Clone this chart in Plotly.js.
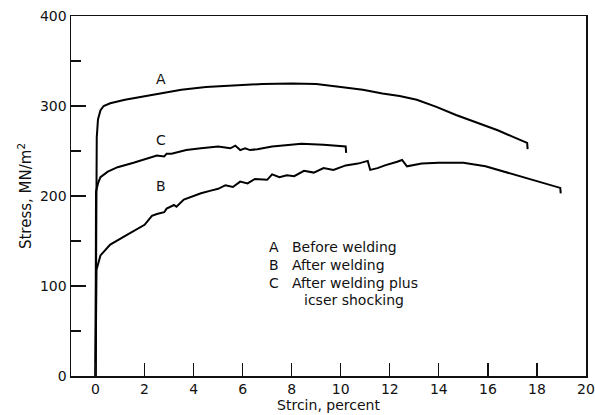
<!DOCTYPE html>
<html><head><meta charset="utf-8">
<script src="https://cdn.plot.ly/plotly-3.0.1.min.js"></script>
<style>body{margin:0;background:#fff}#c{width:595px;height:415px}</style>
</head><body><div id="c"></div>
<script>
// Curve A: Before welding
const strainA = [0, 0.02, 0.05, 0.1, 0.2, 0.33, 0.6, 1.2, 2.0, 2.65, 3.5, 4.5, 5.6, 6.8, 8.0, 9.0, 10.0, 10.9, 11.7, 12.4, 13.1, 13.9, 14.7, 15.5, 16.4, 17.0, 17.6, 17.62];
const stressA = [0, 240, 265, 285, 295, 300, 303, 307, 311, 314, 318, 321, 323, 324.5, 325, 324.5, 321, 318, 314, 311, 307, 299, 290, 282, 273, 266, 259, 252];
// Curve C: After welding plus laser shocking
const strainC = [0, 0.02, 0.1, 0.2, 0.5, 0.9, 1.55, 2.0, 2.5, 2.8, 2.9, 3.1, 3.7, 4.3, 5.0, 5.5, 5.7, 5.9, 6.1, 6.3, 6.6, 7.2, 7.9, 8.4, 9.3, 9.9, 10.2, 10.22];
const stressC = [0, 205, 214, 221, 227, 232, 237, 241, 245, 244, 247, 247, 251, 253, 255, 253, 256, 251, 253, 251, 252, 255, 257, 258, 257, 256, 255, 248];
// Curve B: After welding
const strainB = [0, 0.04, 0.2, 0.6, 1.3, 2.0, 2.3, 2.5, 2.8, 2.9, 3.2, 3.3, 3.6, 4.0, 4.3, 4.7, 5.0, 5.3, 5.6, 5.9, 6.2, 6.5, 7.0, 7.2, 7.5, 7.8, 8.1, 8.5, 8.9, 9.3, 9.7, 10.2, 10.7, 11.1, 11.2, 11.5, 11.8, 12.3, 12.5, 12.7, 13.3, 14.0, 15.0, 15.9, 16.8, 17.9, 18.95, 18.97];
const stressB = [0, 118, 134, 146, 157, 168, 178, 180, 182, 186, 190, 188, 196, 200, 203, 206, 208, 212, 210, 216, 214, 219, 218, 224, 221, 223, 222, 228, 226, 231, 229, 234, 236, 239, 229, 231, 234, 238, 240, 233, 236, 237, 237, 233, 226, 218, 209, 203];

const xTicks = [0, 2, 4, 6, 8, 10, 12, 14, 16, 18, 20];
const xTickText = ['0', '2', '4', '6', '8', '10', '12', '14', '16', '18', '20'];
const yTicks = [0, 100, 200, 300, 400];
const yTickText = ['0', '100', '200', '300', '400'];

const curveLabels = [
  {x: 2.65, y: 330, t: 'A'},
  {x: 2.65, y: 262, t: 'C'},
  {x: 2.65, y: 211, t: 'B'}
];
const legendKeys = ['A', 'B', 'C', ''];
const legendTexts = ['Before welding', 'After welding', 'After welding plus', 'icser shocking'];
const legendY = [143, 123, 103, 84];
const legendX = [7.94, 7.94, 7.94, 8.43];

const line = {color: '#000', width: 2, shape: 'linear'};
const traces = [
  {x: strainA, y: stressA, mode: 'lines', line: line, hoverinfo: 'skip'},
  {x: strainC, y: stressC, mode: 'lines', line: line, hoverinfo: 'skip'},
  {x: strainB, y: stressB, mode: 'lines', line: line, hoverinfo: 'skip'}
];

const font = {family: 'DejaVu Sans, sans-serif', size: 14, color: '#111'};
const titleFont = {family: 'DejaVu Sans, sans-serif', size: 15, color: '#111'};
const annotations = [];
curveLabels.forEach(l => annotations.push({x: l.x, y: l.y, text: l.t, showarrow: false, font: font, xanchor: 'center', yanchor: 'middle'}));
legendTexts.forEach((t, i) => {
  if (legendKeys[i]) annotations.push({x: 7.0, y: legendY[i], text: legendKeys[i], showarrow: false, font: font, xanchor: 'left', yanchor: 'middle'});
  annotations.push({x: legendX[i], y: legendY[i], text: t, showarrow: false, font: font, xanchor: 'left', yanchor: 'middle'});
});

const layout = {
  width: 595, height: 415,
  margin: {l: 71, r: 9, t: 16, b: 39},
  paper_bgcolor: '#fff', plot_bgcolor: '#fff',
  showlegend: false,
  font: font,
  xaxis: {
    range: [-1, 20], tickvals: xTicks, ticktext: xTickText,
    ticks: 'inside', ticklen: 13, tickwidth: 1.2, tickcolor: '#111',
    showline: true, linecolor: '#111', linewidth: 1.5, mirror: true,
    showgrid: false, zeroline: false, tickfont: font,
    title: {text: 'Strcin, percent', font: font, standoff: 2}
  },
  yaxis: {
    range: [0, 400], tickvals: yTicks, ticktext: yTickText,
    ticks: 'inside', ticklen: 15, tickwidth: 1.2, tickcolor: '#111',
    minor: {dtick: 50, ticks: 'inside', ticklen: 10, tickwidth: 1.2, tickcolor: '#111'},
    showline: true, linecolor: '#111', linewidth: 1.5, mirror: true,
    showgrid: false, zeroline: false, tickfont: font,
    title: {text: 'Stress, MN/m<sup>2</sup>', font: titleFont, standoff: 4}
  },
  annotations: annotations
};
Plotly.newPlot('c', traces, layout, {staticPlot: true, displayModeBar: false});
</script>
</body></html>
